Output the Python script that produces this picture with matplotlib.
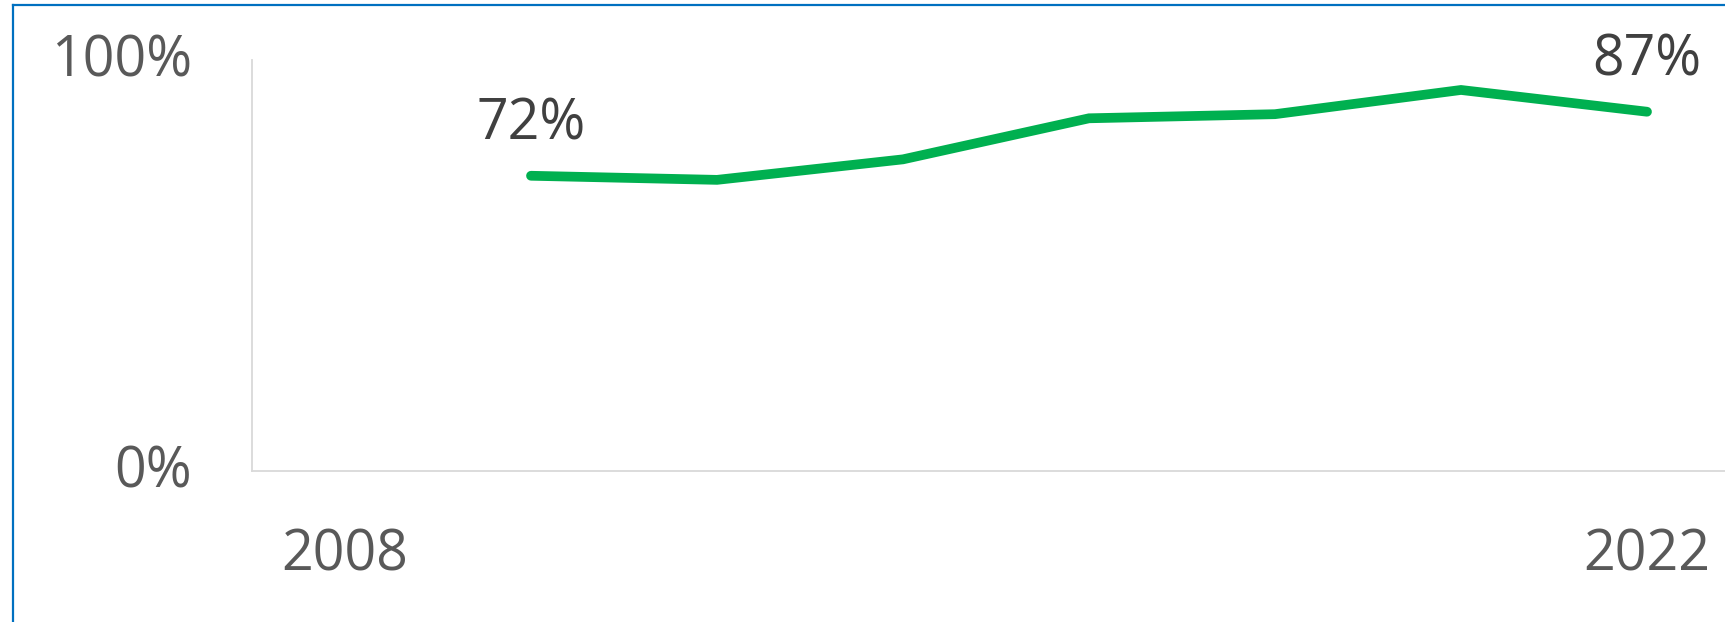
import numpy as np
import matplotlib
matplotlib.use("Agg")
import matplotlib.pyplot as plt
from matplotlib.lines import Line2D
from matplotlib.transforms import ScaledTranslation

# data
years = ["2008", "2010", "2012", "2014", "2016", "2018", "2020", "2022"]
share = [np.nan, 71.8, 70.8, 75.8, 85.8, 86.8, 92.7, 87.4]
label_text = {1: "72%", 7: "87%"}

plt.rcParams['font.family'] = ['Open Sans', 'DejaVu Sans']

W, H = 1725, 622
fig = plt.figure(figsize=(W / 100, H / 100), dpi=100)
fig.patch.set_facecolor("white")

# plot area runs a bit past the right edge, like the original crop
left, right, top, bottom = 252, 1740, 60, 470.5
ax = fig.add_axes([left / W, 1 - bottom / H, (right - left) / W, (bottom - top) / H])

x = np.arange(len(years))
ax.plot(x, share, color="#00B050", lw=7, solid_capstyle="round", solid_joinstyle="miter")

for i, txt in label_text.items():
    ax.annotate(txt, (x[i], share[i]), xytext=(0, 26), textcoords="offset points",
                ha="center", va="baseline", fontsize=40, color="#404040")

ax.set_xlim(-0.5, len(years) - 0.5)
ax.set_ylim(0, 100)
ax.set_yticks([0, 100])
ax.set_yticklabels(["0%", "100%"])
ax.set_xticks([0, len(years) - 1])
ax.set_xticklabels([years[0], years[-1]])
ax.tick_params(axis="y", length=0, pad=43, labelsize=40, labelcolor="#595959")
ax.tick_params(axis="x", length=0, pad=41, labelsize=40, labelcolor="#595959")

# nudge y labels up a little so the digits sit centred on the tick
for lab in ax.get_yticklabels():
    lab.set_transform(lab.get_transform() + ScaledTranslation(0, 0.05, fig.dpi_scale_trans))

for s in ["top", "right"]:
    ax.spines[s].set_visible(False)
for s in ["left", "bottom"]:
    ax.spines[s].set_color("#D9D9D9")
    ax.spines[s].set_linewidth(1.3)

# thin blue frame on top and left
fig.add_artist(Line2D([12.5 / W, 12.5 / W], [0, 1 - 5 / H], color="#0070C0", lw=1.6,
                      transform=fig.transFigure))
fig.add_artist(Line2D([12.5 / W, 1], [1 - 5 / H, 1 - 5 / H], color="#0070C0", lw=1.6,
                      transform=fig.transFigure))

fig.savefig("out.png", dpi=100)
